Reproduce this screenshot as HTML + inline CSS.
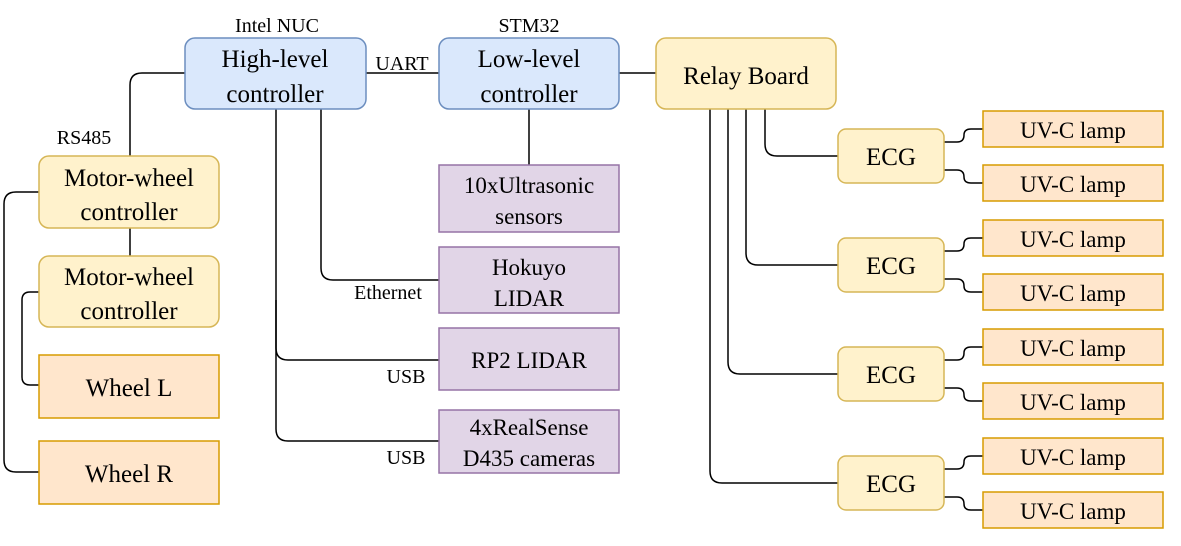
<!DOCTYPE html>
<html><head><meta charset="utf-8"><style>body{margin:0;background:#fff}svg{display:block}svg text{font-family:"Liberation Serif","Times New Roman","DejaVu Serif",serif !important;fill:#000}</style></head><body>
<svg width="1181" height="546" viewBox="0 0 1181 546" xmlns="http://www.w3.org/2000/svg" font-family="'Liberation Serif', 'Times New Roman', 'DejaVu Serif', serif">
<g fill="none" stroke="#000" stroke-width="1.5">
<path d="M185 73 H142 Q130 73 130 85 V156"/>
<path d="M130 228 V256"/>
<path d="M39 192 H16 Q4 192 4 204 V460 Q4 472 16 472 H39"/>
<path d="M39 292 H30 Q22 292 22 300 V377 Q22 385 30 385 H39"/>
<path d="M366 73 H439"/>
<path d="M619 73 H656"/>
<path d="M529 109 V165"/>
<path d="M321 109 V268 Q321 280 333 280 H439"/>
<path d="M276 109 V348 Q276 360 288 360 H439"/>
<path d="M276 300 V429 Q276 441 288 441 H439"/>
<path d="M765 109 V144 Q765 156 777 156 H838"/>
<path d="M746 109 V253 Q746 265 758 265 H838"/>
<path d="M728 109 V362 Q728 374 740 374 H838"/>
<path d="M710 109 V471 Q710 483 722 483 H838"/>
<g id="fan">
<path d="M944 142 H957 Q964 142 964 135 Q964 129 971 129 H983"/>
<path d="M944 170 H957 Q964 170 964 177 Q964 183 971 183 H983"/>
</g>
<use href="#fan" y="109"/><use href="#fan" y="218"/><use href="#fan" y="327"/>
</g>
<g stroke-width="1.5">
<rect x="185" y="38" width="181" height="71" rx="10" fill="#dae8fc" stroke="#6c8ebf"/>
<rect x="439" y="38" width="180" height="71" rx="10" fill="#dae8fc" stroke="#6c8ebf"/>
<rect x="656" y="38" width="180" height="71" rx="10" fill="#fff2cc" stroke="#d6b656"/>
<rect x="39" y="156" width="180" height="72" rx="10" fill="#fff2cc" stroke="#d6b656"/>
<rect x="39" y="256" width="180" height="71" rx="10" fill="#fff2cc" stroke="#d6b656"/>
<rect x="39" y="355" width="180" height="63" fill="#ffe6cc" stroke="#d79b00"/>
<rect x="39" y="441" width="180" height="63" fill="#ffe6cc" stroke="#d79b00"/>
<rect x="439" y="165" width="180" height="67" fill="#e1d5e7" stroke="#9673a6"/>
<rect x="439" y="247" width="180" height="66" fill="#e1d5e7" stroke="#9673a6"/>
<rect x="439" y="328" width="180" height="62" fill="#e1d5e7" stroke="#9673a6"/>
<rect x="439" y="410" width="180" height="63" fill="#e1d5e7" stroke="#9673a6"/>
<g fill="#fff2cc" stroke="#d6b656">
<rect x="838" y="129" width="106" height="54" rx="8"/>
<rect x="838" y="238" width="106" height="54" rx="8"/>
<rect x="838" y="347" width="106" height="54" rx="8"/>
<rect x="838" y="456" width="106" height="54" rx="8"/>
</g>
<g fill="#ffe6cc" stroke="#d79b00">
<rect x="983" y="111" width="180" height="36"/><rect x="983" y="165" width="180" height="36"/>
<rect x="983" y="220" width="180" height="36"/><rect x="983" y="274" width="180" height="36"/>
<rect x="983" y="329" width="180" height="36"/><rect x="983" y="383" width="180" height="36"/>
<rect x="983" y="438" width="180" height="36"/><rect x="983" y="492" width="180" height="36"/>
</g>
</g>
<g font-size="25" text-anchor="middle">
<text x="275" y="67">High-level</text><text x="275" y="102">controller</text>
<text x="529" y="67">Low-level</text><text x="529" y="102">controller</text>
<text x="746" y="84">Relay Board</text>
<text x="129" y="186">Motor-wheel</text><text x="129" y="220">controller</text>
<text x="129" y="285">Motor-wheel</text><text x="129" y="319">controller</text>
<text x="129" y="396">Wheel L</text><text x="129" y="482">Wheel R</text>
<text x="891" y="165">ECG</text><text x="891" y="274">ECG</text><text x="891" y="383">ECG</text><text x="891" y="492">ECG</text>
</g>
<g font-size="23" text-anchor="middle">
<text x="529" y="193">10xUltrasonic</text><text x="529" y="224">sensors</text>
<text x="529" y="275">Hokuyo</text><text x="529" y="306">LIDAR</text>
<text x="529" y="368">RP2 LIDAR</text>
<text x="529" y="435">4xRealSense</text><text x="529" y="466">D435 cameras</text>
<text x="1073" y="138">UV-C lamp</text><text x="1073" y="192">UV-C lamp</text>
<text x="1073" y="247">UV-C lamp</text><text x="1073" y="301">UV-C lamp</text>
<text x="1073" y="356">UV-C lamp</text><text x="1073" y="410">UV-C lamp</text>
<text x="1073" y="465">UV-C lamp</text><text x="1073" y="519">UV-C lamp</text>
</g>
<g font-size="20" text-anchor="middle">
<text x="277" y="32">Intel NUC</text>
<text x="529" y="32">STM32</text>
<text x="402" y="70">UART</text>
<text x="84" y="144">RS485</text>
<text x="388" y="299">Ethernet</text>
<text x="406" y="383">USB</text>
<text x="406" y="464">USB</text>
</g>
</svg>
</body></html>
